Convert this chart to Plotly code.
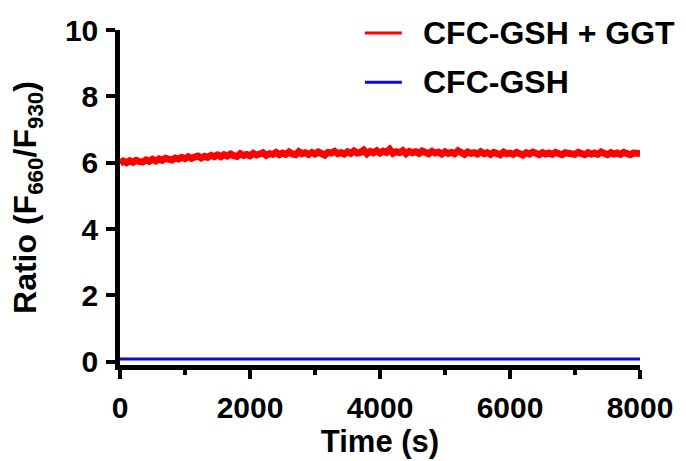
import plotly.graph_objects as go

# Time axis (s), sampled every 50 s for the GGT-treated probe
time_red = list(range(0, 8001, 50))
ratio_red = [
    5.98, 6.05, 6.00, 6.06, 6.01, 6.07, 6.03, 6.02, 6.08, 6.04,
    6.10, 6.05, 6.11, 6.07, 6.13, 6.09, 6.08, 6.14, 6.11, 6.16,
    6.12, 6.18, 6.13, 6.17, 6.20, 6.14, 6.19, 6.16, 6.22, 6.18,
    6.23, 6.18, 6.24, 6.20, 6.26, 6.21, 6.19, 6.27, 6.22, 6.25,
    6.21, 6.28, 6.23, 6.26, 6.30, 6.22, 6.27, 6.25, 6.31, 6.24,
    6.29, 6.25, 6.32, 6.26, 6.24, 6.33, 6.27, 6.30, 6.25, 6.31,
    6.26, 6.32, 6.28, 6.23, 6.31, 6.29, 6.34, 6.27, 6.30, 6.26,
    6.33, 6.28, 6.35, 6.29, 6.31, 6.38, 6.27, 6.34, 6.30, 6.36,
    6.29, 6.35, 6.31, 6.40, 6.28, 6.33, 6.30, 6.36, 6.27, 6.34,
    6.30, 6.33, 6.28, 6.35, 6.31, 6.27, 6.34, 6.29, 6.32, 6.26,
    6.33, 6.28, 6.31, 6.27, 6.36, 6.29, 6.25, 6.32, 6.28, 6.30,
    6.26, 6.33, 6.27, 6.30, 6.25, 6.31, 6.28, 6.24, 6.32, 6.27,
    6.29, 6.25, 6.31, 6.27, 6.23, 6.30, 6.26, 6.32, 6.27, 6.24,
    6.30, 6.26, 6.29, 6.25, 6.31, 6.28, 6.24, 6.30, 6.27, 6.29,
    6.25, 6.31, 6.27, 6.24, 6.30, 6.26, 6.29, 6.25, 6.32, 6.27,
    6.24, 6.30, 6.26, 6.29, 6.25, 6.31, 6.27, 6.24, 6.29, 6.26,
    6.28,
]

# Probe alone, sampled every 500 s
time_blue = list(range(0, 8001, 500))
ratio_blue = [0.08, 0.08, 0.08, 0.08, 0.08, 0.08, 0.08, 0.08, 0.08,
              0.08, 0.08, 0.08, 0.08, 0.08, 0.08, 0.08, 0.08]

series_names = ["CFC-GSH + GGT", "CFC-GSH"]
series_colors = ["#FF0000", "#0A0AD6"]

x_ticks = [0, 2000, 4000, 6000, 8000]
y_ticks = [0, 2, 4, 6, 8, 10]

FONT = "Liberation Sans, Arial, Helvetica, sans-serif"

fig = go.Figure()
fig.add_trace(go.Scatter(x=time_red, y=ratio_red, mode="lines",
                         name=series_names[0],
                         line=dict(color=series_colors[0], width=7)))
fig.add_trace(go.Scatter(x=time_blue, y=ratio_blue, mode="lines",
                         name=series_names[1],
                         line=dict(color=series_colors[1], width=3)))

axis_common = dict(
    showgrid=False, zeroline=False,
    showline=True, linecolor="black", linewidth=4.5,
    ticks="outside", tickcolor="black", tickwidth=4, ticklen=9,
    tickfont=dict(family=FONT, size=30, color="black", weight="bold"),
)

fig.update_xaxes(
    range=[0, 8000], tickvals=x_ticks, ticklabelstandoff=3,
    minor=dict(ticks="outside", dtick=1000, ticklen=5, tickwidth=4, tickcolor="black"),
    title=dict(text="Time (s)", standoff=4,
               font=dict(family=FONT, size=31, color="black", weight="bold")),
    **axis_common,
)
fig.update_yaxes(
    range=[-0.1, 10], tickvals=y_ticks, ticklabelstandoff=2,
    title=dict(text="Ratio (F<sub>660</sub>/F<sub>930</sub>)", standoff=20,
               font=dict(family=FONT, size=32, color="black", weight="bold")),
    **axis_common,
)

# Legend: short line swatch followed by the series label, in paper coordinates
legend_rows_y = [0.991, 0.844]
for name, color, ly in zip(series_names, series_colors, legend_rows_y):
    fig.add_shape(type="line", xref="paper", yref="paper",
                  x0=0.471, x1=0.542, y0=ly, y1=ly,
                  line=dict(color=color, width=3))
    fig.add_annotation(xref="paper", yref="paper", x=0.578, y=ly,
                       xanchor="left", yanchor="middle", showarrow=False,
                       text=name,
                       font=dict(family=FONT, size=32, color="black", weight="bold"))

fig.update_layout(
    width=686, height=461,
    margin=dict(l=120, r=46, t=30, b=92),
    paper_bgcolor="white", plot_bgcolor="white",
    font=dict(family=FONT, color="black", weight="bold"),
    showlegend=False,
)

fig.write_html("out.html")
